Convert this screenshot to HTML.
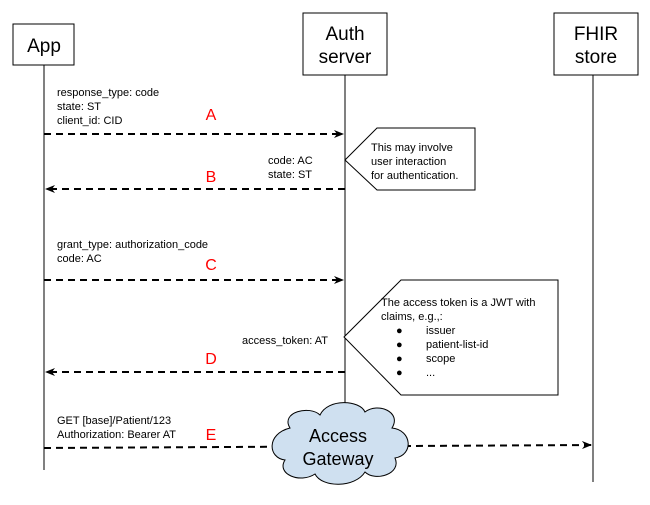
<!DOCTYPE html>
<html><head><style>
body{margin:0;background:#fff;}
svg text{font-family:"Liberation Sans",sans-serif;}
</style></head><body>
<svg width="650" height="500" viewBox="0 0 650 500" xmlns="http://www.w3.org/2000/svg">
<defs><marker id="ar" markerWidth="10" markerHeight="8" refX="9" refY="4" orient="auto" markerUnits="userSpaceOnUse"><path d="M0,0 L10,4 L0,8 L3,4 Z" fill="#000"/></marker></defs>
<g stroke="#000" fill="none">
<rect x="13" y="24" width="61" height="41" fill="#fff"/>
<rect x="303" y="13" width="84" height="62" fill="#fff"/>
<rect x="554" y="13" width="84" height="62" fill="#fff"/>
<line x1="44" y1="65" x2="44" y2="470"/>
<line x1="345" y1="75" x2="345" y2="412"/>
<line x1="593" y1="75" x2="593" y2="482"/>
</g>
<g stroke="#000" stroke-width="2" stroke-dasharray="7,5" fill="none">
<line x1="44" y1="134" x2="343" y2="134" marker-end="url(#ar)"/>
<line x1="345" y1="189" x2="46" y2="189" marker-end="url(#ar)"/>
<line x1="44" y1="280" x2="343" y2="280" marker-end="url(#ar)"/>
<line x1="345" y1="372" x2="46" y2="372" marker-end="url(#ar)"/>
<line x1="44" y1="448" x2="591" y2="445" marker-end="url(#ar)"/>
</g>
<path d="M345,160 L377,128 L475,128 L475,190 L377,190 Z" fill="#fff" stroke="#000"/>
<path d="M344,337 L401,280 L558,280 L558,395 L401,395 Z" fill="#fff" stroke="#000"/>
<path d="M290,428 C280,412 310,405 320,415 C328,398 360,400 365,412 C378,402 402,412 392,428 C412,430 414,455 395,458 C402,474 375,482 365,472 C355,488 322,488 315,474 C300,484 276,474 285,460 C268,458 266,434 290,428 Z" fill="#cfe0f0" stroke="#000"/>
<g text-anchor="middle">
<text x="44" y="52" font-size="19">App</text>
<text x="345" y="40" font-size="19">Auth</text>
<text x="345" y="63" font-size="19">server</text>
<text x="596" y="40" font-size="19">FHIR</text>
<text x="596" y="63" font-size="19">store</text>
<text x="338" y="442" font-size="18">Access</text>
<text x="338" y="465" font-size="18">Gateway</text>
</g>
<g font-size="11">
<text x="57" y="96">response_type: code</text>
<text x="57" y="110">state: ST</text>
<text x="57" y="124">client_id: CID</text>
<text x="268" y="164">code: AC</text>
<text x="268" y="178">state: ST</text>
<text x="57" y="248">grant_type: authorization_code</text>
<text x="57" y="262">code: AC</text>
<text x="242" y="344">access_token: AT</text>
<text x="57" y="424">GET [base]/Patient/123</text>
<text x="57" y="438">Authorization: Bearer AT</text>
<text x="371" y="151">This may involve</text>
<text x="371" y="165">user interaction</text>
<text x="371" y="179">for authentication.</text>
<text x="381" y="306">The access token is a JWT with</text>
<text x="381" y="320">claims, e.g.,:</text>
<text x="426" y="334">issuer</text>
<text x="426" y="348">patient-list-id</text>
<text x="426" y="362">scope</text>
<text x="426" y="376">...</text>
<text x="396" y="334">●</text>
<text x="396" y="348">●</text>
<text x="396" y="362">●</text>
<text x="396" y="376">●</text>
</g>
<g font-size="16" fill="#f00" text-anchor="middle">
<text x="211" y="120">A</text>
<text x="211" y="182">B</text>
<text x="211" y="270">C</text>
<text x="211" y="364">D</text>
<text x="211" y="440">E</text>
</g>
</svg>
</body></html>
